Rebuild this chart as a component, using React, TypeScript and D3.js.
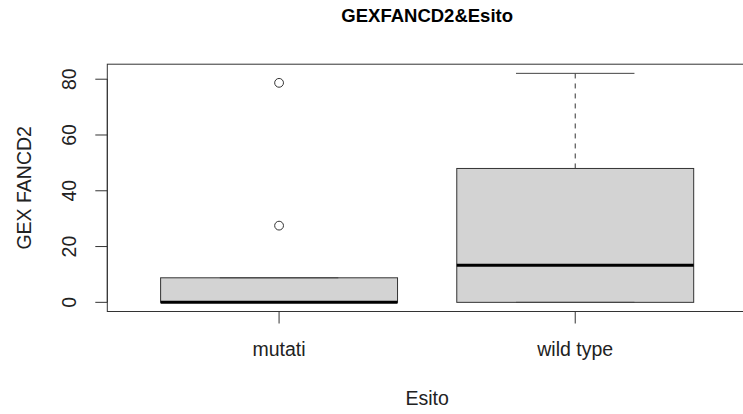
import React from 'react';
import * as d3 from 'd3';

// box summary values
const categories = ['mutati', 'wild type'];
const lowerWhisker = [0, 0];
const q1 = [0, 0];
const median = [0, 13.3];
const q3 = [8.8, 48];
const upperWhisker = [8.8, 82.1];
const outliers = [[27.5, 78.7], []];
const yTicks = [0, 20, 40, 60, 80];

const title = 'GEXFANCD2&Esito';
const xTitle = 'Esito';
const yTitle = 'GEX FANCD2';

const W = 743;
const H = 414;
const left = 107.3;
const right = 747;
const top = 64.2;
const bottom = 311.5;
const font = '"Liberation Sans", Arial, sans-serif';
const fs = 19.5;

function App() {
    const n = categories.length;
    // R style: xlim 0.5..n+0.5 widened by 4%
    const xlo = 0.5, xhi = n + 0.5;
    const xpad = (xhi - xlo) * 0.04;
    const x = d3.scaleLinear().domain([xlo - xpad, xhi + xpad]).range([left, right]);

    const allVals = [...lowerWhisker, ...upperWhisker, ...outliers.flat()];
    const [ymin, ymax] = d3.extent(allVals) as [number, number];
    const ypad = (ymax - ymin) * 0.04;
    const y = d3.scaleLinear().domain([ymin - ypad, ymax + ypad]).range([bottom, top]);

    const boxW = (x(1) - x(0)) * 0.8;
    const capW = boxW * 0.5;

    return (
        <svg width={W} height={H} style={{ display: 'block', position: 'absolute', left: 0, top: 0 }}>
            <rect x={0} y={0} width={W} height={H} fill="white" />
            <text x={x((xlo + xhi) / 2)} y={22} textAnchor="middle" fontFamily={font} fontWeight="bold" fontSize={18.5} fill="#000">{title}</text>

            {categories.map((c, i) => {
                const cx = x(i + 1);
                return (
                    <g key={c}>
                        <line x1={cx} x2={cx} y1={y(q3[i])} y2={y(upperWhisker[i])} stroke="#333" strokeDasharray="5,5" />
                        <line x1={cx} x2={cx} y1={y(q1[i])} y2={y(lowerWhisker[i])} stroke="#333" strokeDasharray="5,5" />
                        <rect x={cx - boxW / 2} y={y(q3[i])} width={boxW} height={y(q1[i]) - y(q3[i])} fill="#d3d3d3" stroke="#333" strokeWidth={1} />
                        <line x1={cx - capW / 2} x2={cx + capW / 2} y1={y(upperWhisker[i])} y2={y(upperWhisker[i])} stroke="#444" strokeWidth={1} />
                        <line x1={cx - capW / 2} x2={cx + capW / 2} y1={y(lowerWhisker[i])} y2={y(lowerWhisker[i])} stroke="#444" strokeWidth={1} />
                        <line x1={cx - boxW / 2} x2={cx + boxW / 2} y1={y(median[i])} y2={y(median[i])} stroke="#000" strokeWidth={3} />
                        {outliers[i].map((v, j) => (
                            <circle key={j} cx={cx} cy={y(v)} r={4.4} fill="none" stroke="#333" strokeWidth={1} />
                        ))}
                    </g>
                );
            })}

            {/* plot frame */}
            <rect x={left} y={top} width={right - left} height={bottom - top} fill="none" stroke="#333" strokeWidth={1} />

            {/* y axis */}
            <line x1={left} x2={left} y1={y(yTicks[0])} y2={y(yTicks[yTicks.length - 1])} stroke="#333" />
            {yTicks.map(t => (
                <g key={t}>
                    <line x1={left - 12} x2={left} y1={y(t)} y2={y(t)} stroke="#333" />
                    <text transform={`translate(${left - 38},${y(t)}) rotate(-90)`} textAnchor="middle" dy="0.35em" fontFamily={font} fontSize={fs} fill="#222">{t}</text>
                </g>
            ))}

            {/* x axis */}
            <line x1={x(1)} x2={x(n)} y1={bottom} y2={bottom} stroke="#333" />
            {categories.map((c, i) => (
                <g key={c}>
                    <line x1={x(i + 1)} x2={x(i + 1)} y1={bottom} y2={bottom + 12} stroke="#333" />
                    <text x={x(i + 1)} y={bottom + 38} textAnchor="middle" dy="0.35em" fontFamily={font} fontSize={fs} fill="#222">{c}</text>
                </g>
            ))}

            <text x={x((xlo + xhi) / 2)} y={398} textAnchor="middle" dy="0.35em" fontFamily={font} fontSize={fs} fill="#222">{xTitle}</text>
            <text transform={`translate(24,${(top + bottom) / 2}) rotate(-90)`} textAnchor="middle" dy="0.35em" fontFamily={font} fontSize={fs} fill="#222">{yTitle}</text>
        </svg>
    );
}

export default App;
